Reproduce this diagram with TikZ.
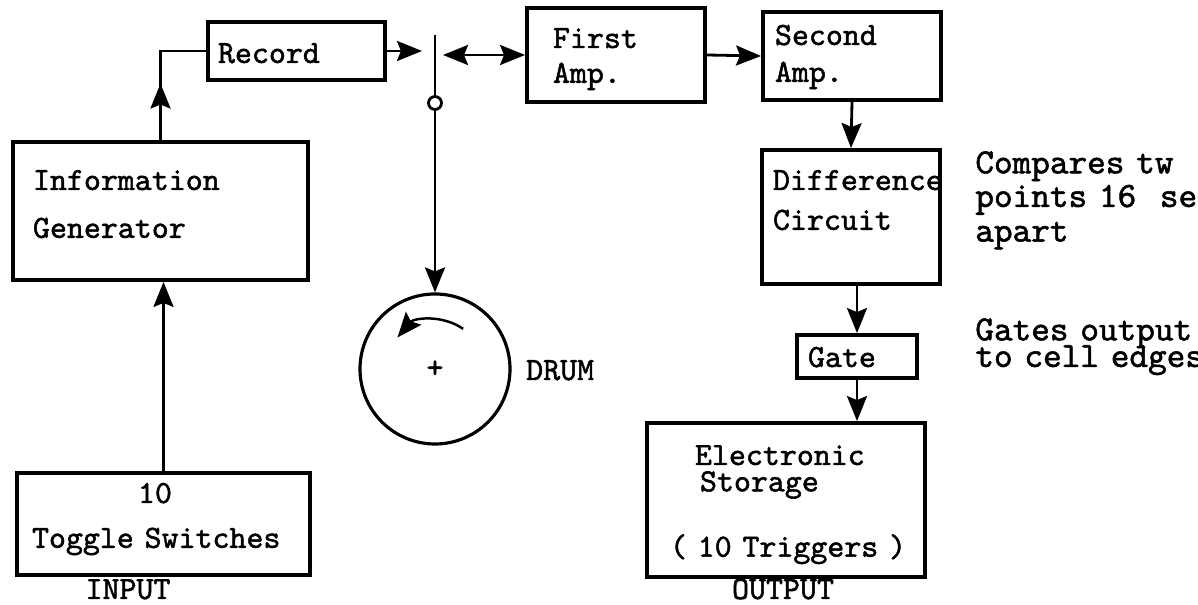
\documentclass[tikz,border=0pt]{standalone}
\usepackage{fontspec}
\setmonofont{lmmono10-regular}[Extension=.otf, FakeBold=1.5]
\usetikzlibrary{arrows.meta,decorations.markings}

\begin{document}
\begin{tikzpicture}[
    x=1cm, y=1cm,
    every node/.style={font=\ttfamily\fontsize{18.4}{13}\selectfont},
    blk/.style={
        draw,
        line width=2.2pt,
        inner ysep=0pt,
        align=left,
        execute at begin node={\lineskiplimit=-1cm\relax}
    },
    note/.style={
        anchor=north west,
        inner sep=0pt,
        text width=5cm,
        text height=0.5cm,
        align=left,
        font=\ttfamily\fontsize{20.2}{14}\selectfont,
        execute at begin node={\lineskiplimit=-1cm\relax}
    },
    tip/.tip={Stealth[length=0.5cm,width=0.4cm,inset=0.08cm]},
    arr/.style={-tip, line width=1.6pt},
    barr/.style={tip-tip, line width=1.6pt},
    midarr/.style={
        line width=1.6pt,
        postaction={decorate},
        decoration={markings, mark=at position 0.42 with {\arrow{tip}}}
    }
]
    \useasboundingbox (0,0) rectangle (23.96,12.1);

    % Input side
    \node[blk, inner xsep=0.4cm, text width=5.1cm, text height=0.96cm, text depth=1.8cm]
        (info) at (3.21,7.88) {Information\\[0.5cm]Generator};

    \node[blk, inner xsep=0.3cm, text width=5.26cm, text height=0.6cm, text depth=1.44cm]
        (toggle) at (3.27,1.62) {\hspace*{2.12cm}10\\[0.44cm]Toggle Switches};

    \node[anchor=base] (inlbl) at (2.56,0.12) {INPUT};

    \node[blk, inner xsep=0.2cm, text width=3.14cm, text height=0.82cm, text depth=0.34cm]
        (record) at (5.93,11.08) {Record};

    % Switch and drum
    \coordinate (bladetop) at (8.70,11.40);
    \coordinate (recin) at (8.44,11.08);
    \coordinate (contact) at (8.86,11.0);

    \node[circle, draw, line width=1.6pt, inner sep=0pt, minimum size=0.26cm]
        (pivot) at (8.70,10.04) {};

    \node[circle, draw, line width=1.8pt, inner sep=0pt, minimum size=3.0cm]
        (drum) at (8.70,4.72) {+};

    \node[anchor=base west] (drumlbl) at (10.40,4.50) {DRUM};

    % Amplifiers
    \node[blk, inner xsep=0.52cm, text width=2.52cm, text height=0.8cm, text depth=1.08cm]
        (amp1) at (12.32,11.0) {First\\[0.24cm]Amp.};

    \node[blk, inner xsep=0.24cm, text width=3.08cm, text height=0.66cm, text depth=1.1cm]
        (amp2) at (17.04,10.98) {Second\\[0.28cm]Amp.};

    % Output side
    \node[blk, inner xsep=0.22cm, text width=3.12cm, text height=0.8cm, text depth=1.88cm]
        (diff) at (17.02,7.76) {Difference\\[0.34cm]Circuit};

    \node[blk, inner xsep=0.22cm, text width=1.96cm, text height=0.64cm, text depth=0.22cm]
        (gate) at (17.14,4.97) {Gate};

    \node[blk, inner xsep=0.46cm, text width=4.64cm, text height=0.84cm, text depth=2.24cm]
        (store) at (15.72,2.1) {\hspace*{0.5cm}Electronic\\[0.07cm]\hspace*{0.6cm}Storage\\[0.85cm]\mbox{( 10 Triggers )}};

    \node[anchor=base] (outlbl) at (15.66,0.12) {OUTPUT};

    % Notes
    \node[note] (cmpnote) at (19.5,9.14) {Compares tw\\[0.18cm]points 16\ \ se\\[0.2cm]apart};
    \node[note] (gatenote) at (19.5,5.8) {Gates output\\[0.04cm]to cell edges};

    % Arrows
    \draw[midarr] (info.north) |- (record.west);
    \draw[arr] (toggle.north) -- (toggle.north |- info.south);
    \draw[arr] (record.east) -- (recin);
    \draw[line width=1.6pt] (bladetop) -- (pivot.north);
    \draw[barr] (contact) -- (amp1.west);
    \draw[arr] (pivot.south) -- (drum.north);
    \draw[arr, line width=1.4pt] ([shift={(55:0.98)}]drum.center)
        arc[start angle=55, end angle=140, radius=0.98];
    \draw[arr] (amp1.east) -- (amp2.west);
    \draw[arr] (amp2.south) -- (diff.north);
    \draw[arr] (gate.north |- diff.south) -- (gate.north);
    \draw[arr] (gate.south) -- (gate.south |- store.north);

\end{tikzpicture}
\end{document}
